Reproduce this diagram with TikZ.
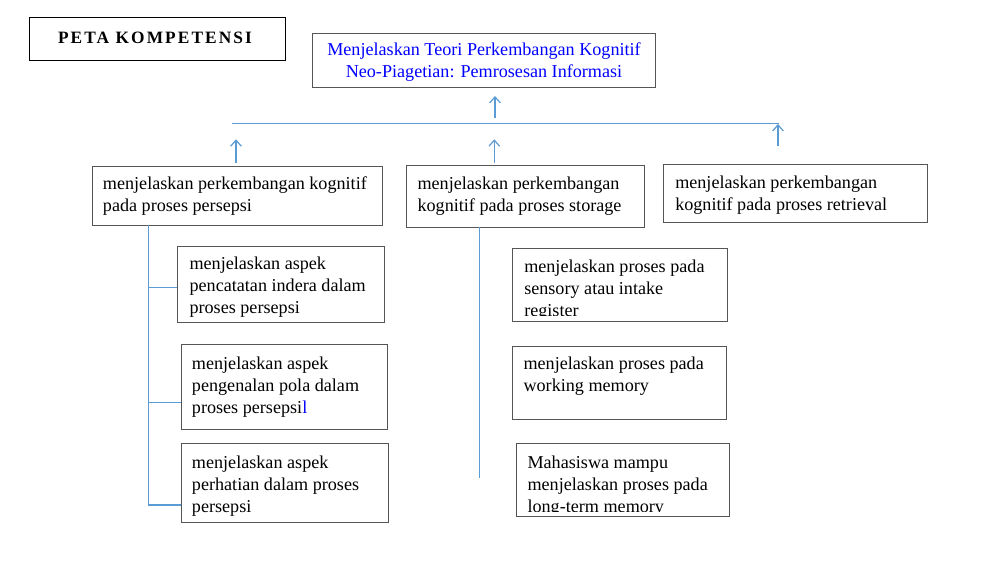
\documentclass[tikz,border=0pt]{standalone}
\usepackage{fontspec}
\setmainfont{Liberation Serif}
\usetikzlibrary{arrows.meta}

\definecolor{garisbiru}{RGB}{91,155,213}
\definecolor{tepi}{RGB}{85,85,85}

\tikzset{
  kotak/.style={draw=tepi, line width=0.75pt, inner sep=0pt, anchor=north west},
  ukuran/.style 2 args={minimum width=#1*0.75pt, minimum height=#2*0.75pt},
  isi/.style={font=\fontsize{13.6}{16.5}\selectfont, align=left, inner sep=0pt, anchor=base west},
  garis/.style={draw=garisbiru, line width=0.9pt},
  panah/.style={garis, -{Straight Barb[length=4.5pt,width=8pt]}},
}

\begin{document}
\begin{tikzpicture}[x=0.75pt,y=-0.75pt]
  \useasboundingbox (0,0) rectangle (1007,561);

  % judul dan kompetensi utama (teks: base = baris terakhir)
  \node[kotak, draw=black, ukuran={256}{42.7}] (judul) at (29,17.3) {};
  \node[font=\fontsize{13}{15}\selectfont\bfseries\addfontfeature{LetterSpace=12}, inner sep=0pt, anchor=base] (tjudul) at (155,43.3) {PETA KOMPETENSI};
  \node[kotak, ukuran={343.3}{54}] (utama) at (311.7,32.7) {};
  \node[isi, align=center, anchor=base, text=blue] (tutama) at (484,77)
    {Menjelaskan Teori Perkembangan Kognitif\\Neo-Piagetian: Pemrosesan Informasi};

  % tiga kompetensi
  \node[kotak, ukuran={290.6}{59}] (kA) at (91.7,166) {};
  \node[isi] (tA) at (102.7,211) {menjelaskan perkembangan kognitif\\pada proses persepsi};
  \node[kotak, ukuran={238}{62.3}] (kB) at (405.7,165) {};
  \node[isi] (tB) at (417.3,211.5) {menjelaskan perkembangan\\kognitif pada proses storage};
  \node[kotak, ukuran={263.4}{58.3}] (kC) at (663.3,164) {};
  \node[isi] (tC) at (675,210) {menjelaskan perkembangan\\kognitif pada proses retrieval};

  % persepsi
  \node[kotak, ukuran={207}{76}] (a1) at (177.3,245.7) {};
  \node[isi] (ta1) at (189.3,313.3) {menjelaskan aspek\\pencatatan indera dalam\\proses persepsi};
  \node[kotak, ukuran={206}{85}] (a2) at (180.7,344) {};
  \node[isi] (ta2) at (191.7,413) {menjelaskan aspek\\pengenalan pola dalam\\proses persepsi{\color{blue}l}};
  \node[kotak, ukuran={207.6}{79}] (a3) at (180.7,443.3) {};
  \node[isi] (ta3) at (191.7,512) {menjelaskan aspek\\perhatian dalam proses\\persepsi};

  % storage
  \node[kotak, ukuran={214.4}{72.7}] (b1) at (512.3,248.3) {};
  \begin{scope}
    \clip (512.3,248.3) rectangle (726.7,315.5);
    \node[isi] (tb1) at (524,316.5) {menjelaskan proses pada\\sensory atau intake\\register};
  \end{scope}
  \node[kotak, ukuran={214}{73.3}] (b2) at (511.7,346) {};
  \node[isi] (tb2) at (523.3,391.3) {menjelaskan proses pada\\working memory};
  \node[kotak, ukuran={213.3}{73.3}] (b3) at (515.7,442.7) {};
  \begin{scope}
    \clip (515.7,442.7) rectangle (729,511.8);
    \node[isi] (tb3) at (527.3,512.5) {Mahasiswa mampu\\menjelaskan proses pada\\long-term memory};
  \end{scope}

  % garis penghubung
  \coordinate (hL) at (232,123.3);
  \coordinate (hR) at (779,123.3);
  \draw[garis] (hL) -- (hR);
  \draw[panah] (495,118.3) coordinate (p0) -- (495,96) coordinate (q0);
  \draw[panah] (236,162.7) coordinate (pA) -- (236,139.3) coordinate (qA);
  \draw[panah] (494.3,162.7) coordinate (pB) -- (494.3,139.3) coordinate (qB);
  \draw[panah] (778,146) coordinate (pC) -- (778,124) coordinate (qC);

  \coordinate (sA) at (148.3,225);
  \coordinate (cA1) at (148.3,287.3);
  \coordinate (cA2) at (148.3,402.3);
  \coordinate (cA3) at (148.3,505);
  \draw[garis] (sA) -- (cA3) -- (cA3 -| a3.west);
  \draw[garis] (cA1) -- (cA1 -| a1.west);
  \draw[garis] (cA2) -- (cA2 -| a2.west);
  \coordinate (sB) at (479.5,227.3);
  \coordinate (eB) at (479.5,478.3);
  \draw[garis] (sB) -- (eB);
\end{tikzpicture}
\end{document}
